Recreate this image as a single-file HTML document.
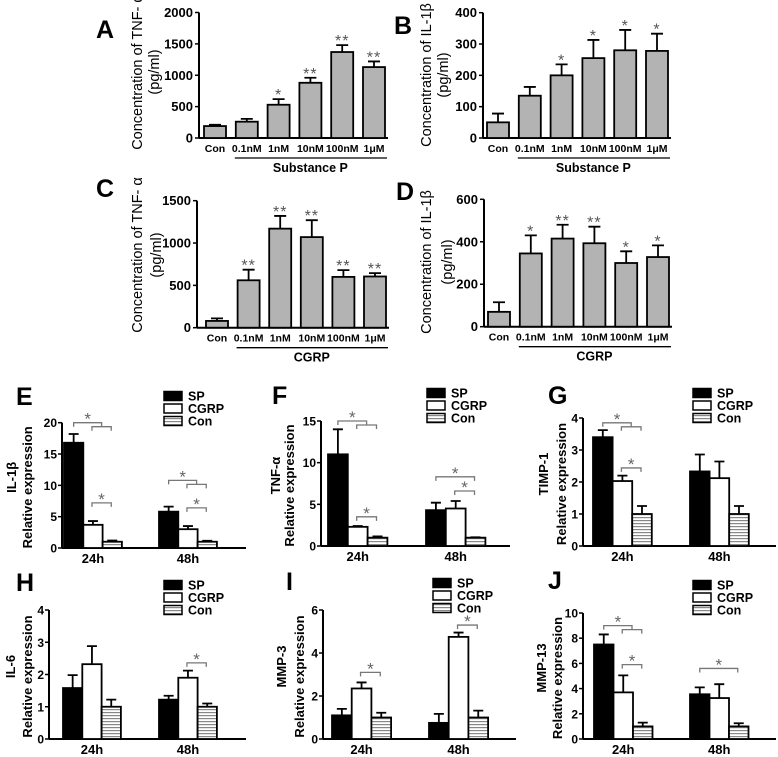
<!DOCTYPE html>
<html><head><meta charset="utf-8"><style>
html,body{margin:0;padding:0;background:#fff}
svg{display:block;font-family:"Liberation Sans",Arial,sans-serif}
</style></head><body>
<svg id="fig" width="778" height="757" viewBox="0 0 778 757" xmlns="http://www.w3.org/2000/svg">
<defs>
<pattern id="stripes" patternUnits="userSpaceOnUse" width="4" height="3">
<rect width="4" height="3" fill="#fff"/><rect y="1" width="4" height="1.2" fill="#888"/>
</pattern>
</defs>
</svg>
<script>
// ===== Top panels data =====
const doseCats = ["Con","0.1nM","1nM","10nM","100nM","1μM"];
const aVals = [190,260,530,880,1370,1130];
const aErr = [20,45,90,80,110,90];
const aStars = ["","","*","**","**","**"];
const bVals = [50,135,200,255,280,278];
const bErr = [28,28,35,58,65,55];
const bStars = ["","","*","*","*","*"];
const cVals = [80,560,1170,1070,600,605];
const cErr = [30,125,150,200,80,40];
const cStars = ["","**","**","**","**","**"];
const dVals = [70,345,415,393,300,328];
const dErr = [45,85,65,78,55,55];
const dStars = ["","*","**","**","*","*"];
const aTicks = [0,500,1000,1500,2000];
const bTicks = [0,100,200,300,400];
const cTicks = [0,500,1000,1500];
const dTicks = [0,200,400,600];

// ===== Bottom panels data =====
const times = ["24h","48h"];
const seriesNames = ["SP","CGRP","Con"];
const eVals = [[16.8,3.7,1.0],[5.8,3.0,1.0]];
const eErr = [[1.4,0.6,0.2],[0.8,0.5,0.15]];
const fVals = [[11.0,2.3,1.0],[4.3,4.5,1.0]];
const fErr = [[3.0,0.1,0.15],[0.9,0.9,0.05]];
const gVals = [[3.4,2.03,1.0],[2.33,2.12,1.0]];
const gErr = [[0.22,0.17,0.25],[0.53,0.52,0.25]];
const hVals = [[1.58,2.32,1.0],[1.22,1.9,1.0]];
const hErr = [[0.4,0.56,0.22],[0.12,0.22,0.1]];
const iVals = [[1.1,2.35,1.0],[0.75,4.75,1.0]];
const iErr = [[0.3,0.28,0.22],[0.42,0.2,0.32]];
const jVals = [[7.5,3.7,1.0],[3.55,3.25,1.0]];
const jErr = [[0.8,1.35,0.3],[0.55,1.1,0.25]];
const eTicks = [0,5,10,15,20];
const fTicks = [0,5,10,15];
const gTicks = [0,1,2,3,4];
const hTicks = [0,1,2,3,4];
const iTicks = [0,2,4,6];
const jTicks = [0,2,4,6,8,10];
// significance brackets: [type, group, height]
const eSig = [["grp",0,20],["cc",0,7.2],["grp",1,10.8],["cc",1,6.4]];
const fSig = [["grp",0,15],["cc",0,3.5],["sc",1,8.3],["cc",1,6.6]];
const gSig = [["grp",0,3.85],["cc",0,2.44]];
const hSig = [["cc",1,2.36]];
const iSig = [["cc",0,3.1],["cc",1,5.3]];
const jSig = [["grp",0,9.0],["cc",0,5.9],["sc",1,5.6]];

const svg = document.getElementById('fig');
const NS = "http://www.w3.org/2000/svg";
function mk(tag, attrs, parent){
  const el = document.createElementNS(NS, tag);
  for (const k in attrs) el.setAttribute(k, attrs[k]);
  (parent||svg).appendChild(el);
  return el;
}
function txt(s, attrs, parent){ const t = mk('text', attrs, parent); t.textContent = s; return t; }

function panelLetter(L, x, y){
  const t = txt(L, {x:x, y:y, 'font-size':25, 'font-weight':'bold', fill:'#000'});
  
  
}

function topPanel(id, cfg, vals, errs, stars, ticks){
  const g = mk('g', {});
  
  
  const yS = v => cfg.y0 - (v / cfg.max) * (cfg.y0 - cfg.yTop);
  const xS = i => cfg.x0 + i * cfg.pitch;
  const ya = mk('line', {x1:cfg.ax, y1:cfg.yTop, x2:cfg.ax, y2:cfg.y0, stroke:'#000','stroke-width':2}, g);
  
  
  const xa = mk('line', {x1:cfg.ax, y1:cfg.y0, x2:cfg.xEnd, y2:cfg.y0, stroke:'#000','stroke-width':2}, g);
  
  
  ticks.forEach(t => {
    mk('line', {x1:cfg.ax-4, y1:yS(t), x2:cfg.ax, y2:yS(t), stroke:'#000','stroke-width':1.5}, g);
    const tl = txt(String(t), {x:cfg.ax-6, y:yS(t)+4.5, 'text-anchor':'end','font-size':13,'font-weight':'bold'}, g);
    
    
  });
  vals.forEach((v,i) => {
    const x = xS(i), cx = x + cfg.bw/2;
    const eb = mk('path', {d:`M${cx},${yS(v)} V${yS(v+errs[i])} M${cx-6},${yS(v+errs[i])} H${cx+6}`, stroke:'#000','stroke-width':1.8, fill:'none'}, g);
    
    
    const r = mk('rect', {x:x, y:yS(v), width:cfg.bw, height:cfg.y0-yS(v), fill:'#b3b3b3', stroke:'#000','stroke-width':1.8}, g);
    
    
    if (stars[i]) {
      const s = txt(stars[i], {x:cx, y:yS(v+errs[i])+1, 'text-anchor':'middle','font-size':16, fill:'#555','letter-spacing':1}, g);
      
      
    }
    const cl = txt(doseCats[i], {x:cx, y:cfg.y0+14, 'text-anchor':'middle','font-size':10.5,'font-weight':'bold'}, g);
    
    
  });
  const ul = mk('line', {x1:xS(1)-1, y1:cfg.y0+20, x2:xS(5)+cfg.bw+2, y2:cfg.y0+20, stroke:'#000','stroke-width':1.3}, g);
  
  
  const gl = txt(cfg.group, {x:(xS(1)+xS(5)+cfg.bw)/2, y:cfg.y0+34, 'text-anchor':'middle','font-size':12.5,'font-weight':'bold'}, g);
  
  
  const t1 = txt(cfg.t1, {x:0, y:0, 'text-anchor':'middle','font-size':14.5, transform:`translate(${cfg.tx1},${cfg.ty}) rotate(-90)`}, g);
  
  
  const t2 = txt('(pg/ml)', {x:0, y:0, 'text-anchor':'middle','font-size':14.5, transform:`translate(${cfg.tx2},${cfg.ty}) rotate(-90)`}, g);
  
  
}

function bottomPanel(id, cfg, vals, errs, ticks, sigs){
  const g = mk('g', {});
  
  
  const yS = v => cfg.y0 - (v / cfg.max) * (cfg.y0 - cfg.yTop);
  const xS = (gi, si) => cfg.g[gi] + si * cfg.bw;
  const cX = (gi, si) => xS(gi, si) + cfg.bw/2;
  const ya = mk('line', {x1:cfg.ax, y1:cfg.yTop, x2:cfg.ax, y2:cfg.y0, stroke:'#000','stroke-width':2}, g);
  
  
  const xa = mk('line', {x1:cfg.ax, y1:cfg.y0, x2:cfg.xEnd, y2:cfg.y0, stroke:'#000','stroke-width':2}, g);
  
  
  ticks.forEach(t => {
    mk('line', {x1:cfg.ax-4, y1:yS(t), x2:cfg.ax, y2:yS(t), stroke:'#000','stroke-width':1.5}, g);
    const tl = txt(String(t), {x:cfg.ax-5, y:yS(t)+4.5, 'text-anchor':'end','font-size':12,'font-weight':'bold'}, g);
    
    
  });
  const fills = ['#000','#fff','url(#stripes)'];
  vals.forEach((grp, gi) => {
    grp.forEach((v, si) => {
      const cx = cX(gi, si), e = errs[gi][si];
      const eb = mk('path', {d:`M${cx},${yS(v)} V${yS(v+e)} M${cx-5},${yS(v+e)} H${cx+5}`, stroke:'#000','stroke-width':1.8, fill:'none'}, g);
      
      
      const r = mk('rect', {x:xS(gi,si), y:yS(v), width:cfg.bw, height:cfg.y0-yS(v), fill:fills[si], stroke:'#000','stroke-width':1.8}, g);
      
      
    });
    const tl = txt(times[gi], {x:cX(gi,1), y:cfg.y0+15, 'text-anchor':'middle','font-size':13,'font-weight':'bold'}, g);
    
    
  });
  sigs.forEach(s => {
    const [type, gi, h] = s;
    const y = yS(h);
    let d, sx;
    if (type === 'grp') {
      const a = cX(gi,0), b = cX(gi,1)-1, c = cX(gi,2)-1, m = (b+c)/2;
      d = `M${a},${y+4} V${y} H${m} V${y+4} M${b},${y+8} V${y+4} H${c} V${y+8}`;
      sx = (a+m)/2;
    } else if (type === 'cc') {
      const b = cX(gi,1)-1, c = cX(gi,2)-1;
      d = `M${b},${y+4} V${y} H${c} V${y+4}`;
      sx = (b+c)/2;
    } else {
      const a = cX(gi,0), c = cX(gi,2)-1;
      d = `M${a},${y+4} V${y} H${c} V${y+4}`;
      sx = (a+c)/2;
    }
    const br = mk('path', {d:d, stroke:'#777','stroke-width':1.3, fill:'none'}, g);
    
    
    const st = txt('*', {x:sx, y:y+2, 'text-anchor':'middle','font-size':17, fill:'#666'}, g);
    
    
  });
  const lg = mk('g', {}, g);
  
  
  seriesNames.forEach((n, si) => {
    const cy = cfg.leg[1] + si * 12.5;
    const sw = mk('rect', {x:cfg.leg[0], y:cy-4.5, width:18, height:9, fill:fills[si], stroke:'#000','stroke-width':1.5}, lg);
    
    
    const lt = txt(n, {x:cfg.leg[0]+24, y:cy+4.5, 'font-size':12.5,'font-weight':'bold'}, lg);
    
    
  });
  const yc = (cfg.y0 + cfg.yTop) / 2 + 2;
  const t1 = txt(cfg.name, {x:0, y:0, 'text-anchor':'middle','font-size':13,'font-weight':'bold', transform:`translate(${cfg.tx1},${yc-10}) rotate(-90)`}, g);
  
  
  const t2 = txt('Relative expression', {x:0, y:0, 'text-anchor':'middle','font-size':13,'font-weight':'bold', transform:`translate(${cfg.tx2},${yc}) rotate(-90)`}, g);
  
  
}

topPanel('a', {ax:199,y0:138,yTop:12.5,max:2000,x0:204,pitch:31.8,bw:22,xEnd:388,group:'Substance P',t1:'Concentration of TNF- α',tx1:142,tx2:159,ty:72}, aVals, aErr, aStars, aTicks);
topPanel('b', {ax:483,y0:138,yTop:12.7,max:400,x0:487,pitch:31.8,bw:22,xEnd:671,group:'Substance P',t1:'Concentration of IL-1β',tx1:431,tx2:448,ty:75}, bVals, bErr, bStars, bTicks);
topPanel('c', {ax:197,y0:327.7,yTop:200.7,max:1500,x0:206,pitch:31.6,bw:22,xEnd:389,group:'CGRP',t1:'Concentration of TNF- α',tx1:142,tx2:161,ty:255}, cVals, cErr, cStars, cTicks);
topPanel('d', {ax:484,y0:326.7,yTop:199.3,max:600,x0:488,pitch:31.8,bw:22,xEnd:672,group:'CGRP',t1:'Concentration of IL-1β',tx1:431,tx2:452,ty:262}, dVals, dErr, dStars, dTicks);

bottomPanel('e', {ax:62,y0:548,yTop:422.7,max:20,g:[64,159],bw:19.3,xEnd:246,leg:[164,396],name:'IL-1β',tx1:16,tx2:32}, eVals, eErr, eTicks, eSig);
bottomPanel('f', {ax:321,y0:546,yTop:421,max:15,g:[328,426],bw:19.8,xEnd:510,leg:[427,393],name:'TNF-α',tx1:280,tx2:294}, fVals, fErr, fTicks, fSig);
bottomPanel('g', {ax:583,y0:546,yTop:418,max:4,g:[593,690],bw:19.6,xEnd:776,leg:[693,393],name:'TIMP-1',tx1:548,tx2:566}, gVals, gErr, gTicks, gSig);
bottomPanel('h', {ax:49,y0:739,yTop:610,max:4,g:[63,159],bw:19.3,xEnd:246,leg:[164,585],name:'IL-6',tx1:15,tx2:32}, hVals, hErr, hTicks, hSig);
bottomPanel('i', {ax:323,y0:739,yTop:610,max:6,g:[332,429],bw:19.7,xEnd:516,leg:[433,583],name:'MMP-3',tx1:286,tx2:304}, iVals, iErr, iTicks, iSig);
bottomPanel('j', {ax:583,y0:739,yTop:613,max:10,g:[594,690],bw:19.5,xEnd:776,leg:[693,585],name:'MMP-13',tx1:546,tx2:562}, jVals, jErr, jTicks, jSig);

panelLetter('A', 96, 38);
panelLetter('B', 394, 34);
panelLetter('C', 96, 197);
panelLetter('D', 396, 200);
panelLetter('E', 16, 405);
panelLetter('F', 272, 404);
panelLetter('G', 548, 404);
panelLetter('H', 16, 591);
panelLetter('I', 286, 590);
panelLetter('J', 548, 589);
</script>
</body></html>
